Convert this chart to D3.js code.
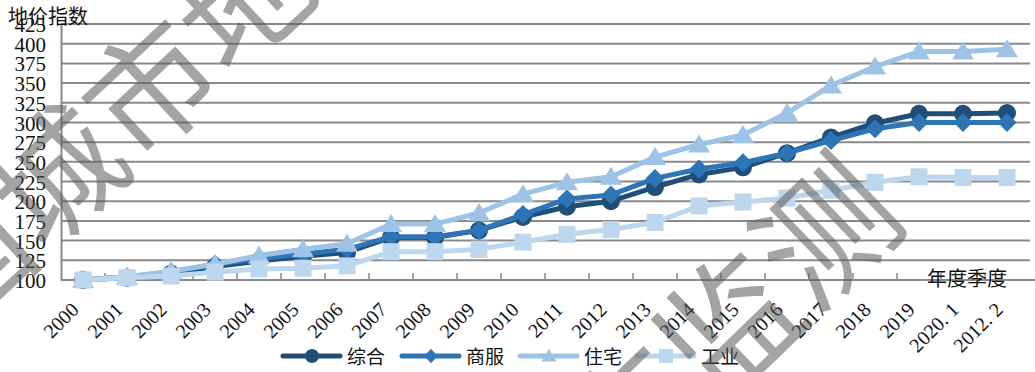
<!DOCTYPE html>
<html>
<head>
<meta charset="utf-8">
<script src="https://cdn.jsdelivr.net/npm/d3@7"></script>
<style>
  body { margin: 0; background: #fff; }
  svg { display: block; }
</style>
</head>
<body>
<svg id="chart"></svg>
<script>
const categories = ["2000","2001","2002","2003","2004","2005","2006","2007","2008","2009","2010",
  "2011","2012","2013","2014","2015","2016","2017","2018","2019","2020. 1","2012. 2"];
const yTicks = [100,125,150,175,200,225,250,275,300,325,350,375,400,425];

const zonghe  = [100,103,108,117,124,130,135,154,154,163,180,193,200,218,234,243,261,281,299,311,311,312];
const shangfu = [100,104,110,120,127,133,139,155,155,163,183,203,208,229,241,249,261,277,292,300,300,300];
const zhuzhai = [100,104,111,120,131,139,146,171,171,185,209,224,231,256,272,284,312,347,371,390,390,393];
const gongye  = [100,103,105,110,114,115,118,136,136,139,148,158,164,173,194,199,204,214,224,231,230,230];

const seriesNames = ["综合","商服","住宅","工业"];
const seriesData = [zonghe, shangfu, zhuzhai, gongye];
const colors = ["#1f4e79","#2e75b6","#9dc3e6","#bdd7ee"];
const shapes = ["circle","diamond","triangle","square"];

const width = 1035, height = 372;
const svg = d3.select("#chart").attr("width", width).attr("height", height);

const x = d3.scaleBand().domain(categories).range([61, 1029]);
const y = d3.scaleLinear().domain([100, 425]).range([280, 24]);
const cx = d => x(d) + x.bandwidth() / 2;

const serif = "'Liberation Serif','DejaVu Serif',serif";
const cjk = "'Noto Sans CJK SC','Noto Sans',sans-serif";

// grid
svg.append("g").selectAll("line").data(yTicks.slice(1)).enter().append("line")
  .attr("x1", 61).attr("x2", 1030)
  .attr("y1", d => y(d)).attr("y2", d => y(d))
  .attr("stroke", "#8a8a8a").attr("stroke-width", 2);

// y axis
const yAxis = svg.append("g").attr("transform", "translate(61,0)")
  .call(d3.axisLeft(y).tickValues(yTicks).tickSize(0).tickPadding(15));
yAxis.select(".domain").attr("stroke", "#8a8a8a").attr("stroke-width", 2);
yAxis.selectAll("text").attr("font-family", serif).attr("font-size", 21).attr("fill", "#111")
  .attr("dy", "0.36em");

// x axis
const xAxis = svg.append("g").attr("transform", "translate(0,280)")
  .call(d3.axisBottom(x).tickSize(0).tickFormat(""));
xAxis.select(".domain").attr("stroke", "#8a8a8a").attr("stroke-width", 2).attr("d", "M61,0H1035");
svg.append("g").selectAll("line").data(categories.slice(1)).enter().append("line")
  .attr("x1", d => x(d)).attr("x2", d => x(d))
  .attr("y1", 280).attr("y2", 273)
  .attr("stroke", "#8a8a8a").attr("stroke-width", 1.5);

svg.append("g").selectAll("text").data(categories).enter().append("text")
  .attr("transform", d => `translate(${cx(d) - 3},311) rotate(-45)`)
  .attr("text-anchor", "end")
  .attr("font-family", serif).attr("font-size", 20).attr("fill", "#111")
  .text(d => d);

// titles
svg.append("text").attr("x", 8).attr("y", 24)
  .attr("font-family", cjk).attr("font-size", 20).attr("fill", "#111").text("地价指数");
svg.append("text").attr("x", 1007).attr("y", 286).attr("text-anchor", "end")
  .attr("font-family", cjk).attr("font-size", 20).attr("fill", "#111").text("年度季度");

function marker(sel, shape, color, s) {
  if (shape === "circle") return sel.append("circle").attr("r", s).attr("fill", color);
  let p;
  if (shape === "diamond") p = `M0,${-s}L${s},0L0,${s}L${-s},0Z`;
  if (shape === "triangle") p = `M0,${-s}L${s * 1.1},${s * 0.8}L${-s * 1.1},${s * 0.8}Z`;
  if (shape === "square") p = `M${-s},${-s}H${s}V${s}H${-s}Z`;
  return sel.append("path").attr("d", p).attr("fill", color);
}

const line = d3.line().x((d, i) => cx(categories[i])).y(d => y(d));
const sizes = [9, 9.5, 10, 8.5];

seriesData.forEach((vals, k) => {
  const g = svg.append("g");
  g.append("path").datum(vals).attr("d", line)
    .attr("fill", "none").attr("stroke", colors[k]).attr("stroke-width", 5)
    .attr("stroke-linejoin", "round");
  vals.forEach((v, i) => {
    const m = g.append("g").attr("transform", `translate(${cx(categories[i])},${y(v)})`);
    marker(m, shapes[k], colors[k], sizes[k]);
  });
});

// legend
const legX = [283, 402, 520, 637];
const leg = svg.append("g");
seriesNames.forEach((name, k) => {
  const g = leg.append("g").attr("transform", `translate(${legX[k]},356)`);
  g.append("line").attr("x1", 0).attr("x2", 57).attr("y1", 0).attr("y2", 0)
    .attr("stroke", colors[k]).attr("stroke-width", 5).attr("stroke-linecap", "round");
  const m = g.append("g").attr("transform", "translate(29,0)");
  marker(m, shapes[k], colors[k], 7);
  g.append("text").attr("x", 64).attr("y", 7.5)
    .attr("font-family", cjk).attr("font-size", 19).attr("fill", "#111").text(name);
});

// watermark
const wm = [
  {text: "中国城市地价", x: 52, y: 170, angle: -43, fs: 128, first: 2},
  {text: "地价动态监测", x: 820, y: 225, angle: -44, fs: 136, first: 5}
];
wm.forEach(w => {
  svg.append("text")
    .attr("transform", `translate(${w.x},${w.y}) rotate(${w.angle})`)
    .attr("x", -w.fs / 2 - w.first * w.fs)
    .attr("dominant-baseline", "central")
    .attr("font-family", cjk).attr("font-size", w.fs)
    .attr("fill", "#595959").attr("fill-opacity", 0.55)
    .text(w.text);
});
</script>
</body>
</html>
